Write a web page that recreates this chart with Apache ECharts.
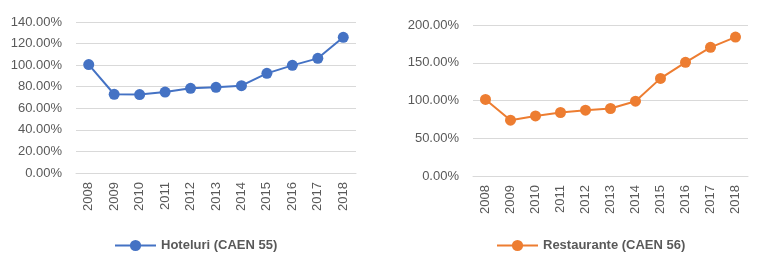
<!DOCTYPE html>
<html>
<head>
<meta charset="utf-8">
<script src="https://cdn.jsdelivr.net/npm/echarts@6/dist/echarts.min.js"></script>
<style>
html, body { margin: 0; padding: 0; background: #fff; }
#chart { width: 760px; height: 268px; }
</style>
</head>
<body>
<div id="chart"></div>
<script>
// data
var years = ['2008','2009','2010','2011','2012','2013','2014','2015','2016','2017','2018'];
var hoteluri = [100.5, 73, 72.7, 75, 78.5, 79.4, 81, 92.4, 99.8, 106.3, 125.8];
var restaurante = [101.4, 73.9, 79.6, 84.1, 87.2, 89.4, 99.1, 129.3, 150.6, 170.4, 184];
var nameH = 'Hoteluri (CAEN 55)';
var nameR = 'Restaurante (CAEN 56)';

var FONT = '"Liberation Sans", Arial, sans-serif';
var TXT = '#595959';
var GRID = '#d9d9d9';

function xAxisFor(idx) {
	return {
		type: 'category',
		gridIndex: idx,
		data: years,
		boundaryGap: true,
		axisTick: {show: false},
		axisLine: {show: true, lineStyle: {color: GRID, width: 1}},
		axisLabel: {rotate: 90, margin: 9, fontFamily: FONT, fontSize: 13, color: TXT}
	};
}
function yAxisFor(idx, max, step) {
	return {
		type: 'value',
		gridIndex: idx,
		min: 0, max: max, interval: step,
		axisLine: {show: false},
		axisTick: {show: false},
		splitLine: {show: true, lineStyle: {color: GRID, width: 1}},
		axisLabel: {
			margin: 14, fontFamily: FONT, fontSize: 13, color: TXT,
			formatter: function(v) { return v.toFixed(2) + '%'; }
		}
	};
}
function serieFor(name, idx, data, color) {
	return {
		name: name,
		type: 'line',
		xAxisIndex: idx,
		yAxisIndex: idx,
		data: data,
		symbol: 'circle',
		symbolSize: 11,
		itemStyle: {color: color},
		lineStyle: {color: color, width: 2},
		animation: false
	};
}
function legendFor(name, left) {
	return {
		data: [name],
		left: left, top: 234,
		itemWidth: 41, itemHeight: 14, itemGap: 5,
		textStyle: {fontFamily: FONT, fontSize: 13, fontWeight: 'bold', color: TXT}
	};
}

var chart = echarts.init(document.getElementById('chart'));
chart.setOption({
	backgroundColor: '#fff',
	grid: [
		{left: 76, right: 404, top: 22, bottom: 95},
		{left: 473, right: 12, top: 25, bottom: 92}
	],
	legend: [legendFor(nameH, 109), legendFor(nameR, 491)],
	xAxis: [xAxisFor(0), xAxisFor(1)],
	yAxis: [yAxisFor(0, 140, 20), yAxisFor(1, 200, 50)],
	series: [
		serieFor(nameH, 0, hoteluri, '#4472C4'),
		serieFor(nameR, 1, restaurante, '#ED7D31')
	]
});
</script>
</body>
</html>
